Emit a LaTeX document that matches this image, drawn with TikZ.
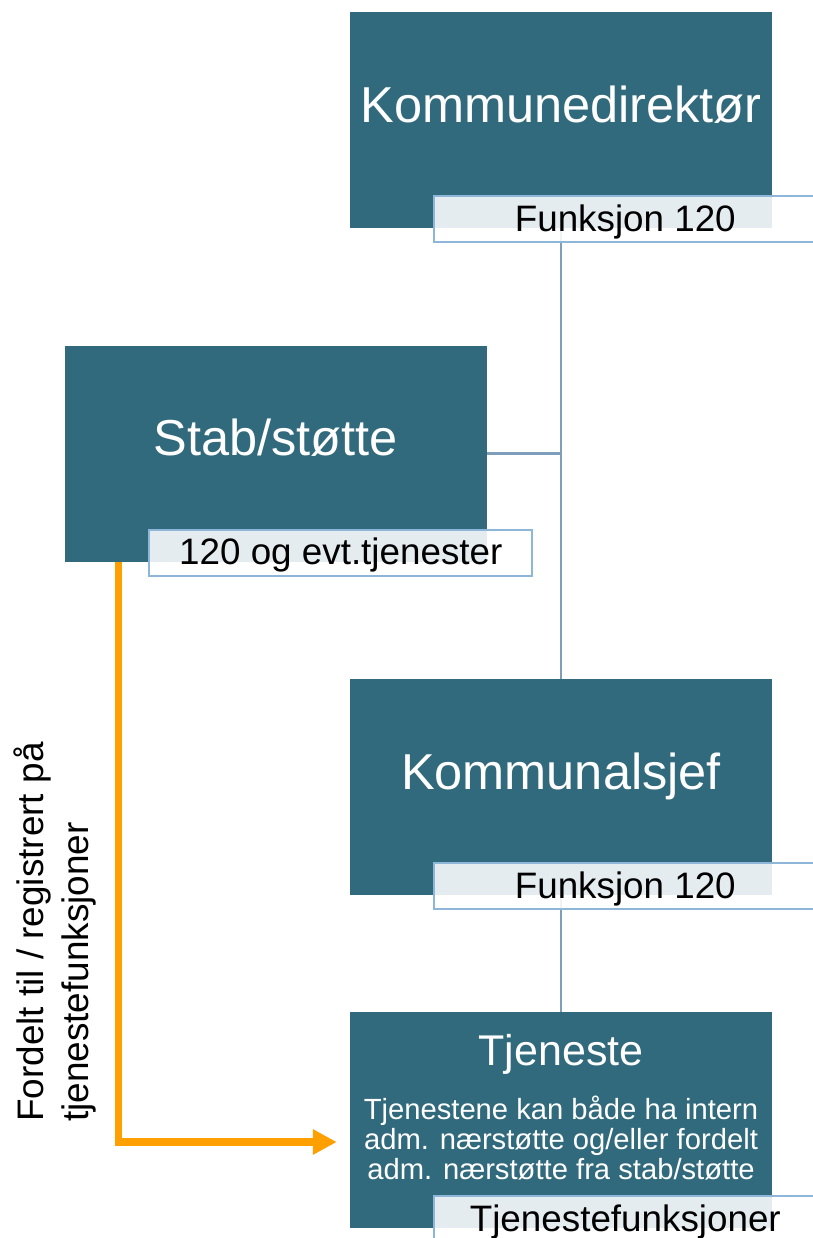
\documentclass[tikz,border=0pt]{standalone}
\usepackage{fontspec}
\setmainfont{Liberation Sans}
\definecolor{boxteal}{RGB}{49, 106, 124}
\definecolor{tagblue}{RGB}{141, 182, 216}
\definecolor{linkgray}{RGB}{127, 158, 186}
\definecolor{arroworange}{RGB}{255, 160, 0}
\usetikzlibrary{arrows.meta, backgrounds}

\begin{document}
\begin{tikzpicture}[x=1pt, y=-1pt,
  unit/.style={fill=boxteal, minimum width=422pt, minimum height=216pt, inner sep=0pt},
  title/.style={text=white, font=\fontsize{50.5}{60}\selectfont, anchor=base, inner sep=0pt},
  tag/.style={draw=tagblue, line width=2pt, fill=white, fill opacity=0.88, text opacity=1, minimum width=383pt, minimum height=46pt, inner sep=0pt, text height=27pt, text depth=3pt, anchor=north west, font=\fontsize{36.8}{44}\selectfont},
  link/.style={draw=linkgray, line width=2.2pt},
  fordelt/.style={draw=arroworange, line width=7.5pt, -{Triangle[length=24pt, width=24pt]}}]
  \useasboundingbox (0, 0) rectangle (812, 1238);

  % Units
  \node[unit] (kd) at (561, 120) {};
  \node[unit] (stab) at (275.5, 453.5) {};
  \node[unit] (ks) at (561, 787) {};
  \node[unit] (tj) at (561, 1120) {};

  % Titles
  \node[title] (kdtitle) at ([yshift=-3pt]kd.center) {Kommunedirektør};
  \node[title] (stabtitle) at ([yshift=-1.5pt]stab.center) {Stab/støtte};
  \node[title] (kstitle) at ([yshift=-2pt]ks.center) {Kommunalsjef};
  \node[title, font=\fontsize{43}{50}\selectfont] (tjtitle) at ([yshift=55pt]tj.center) {Tjeneste};
  \node[text=white, font=\fontsize{29.2}{30}\selectfont, align=center, anchor=north, inner sep=0pt] (tjtext) at ([yshift=24pt]tj.center) {
    Tjenestene kan både ha intern\\adm. nærstøtte og/eller fordelt\\adm. nærstøtte fra stab/støtte
  };

  % Function tags
  \node[tag] (kdtag) at ([shift={(83pt,33pt)}]kd.south west) {Funksjon 120};
  \node[tag] (stabtag) at ([shift={(84pt,33pt)}]stab.south west) {120 og evt.tjenester};
  \node[tag] (kstag) at ([shift={(83pt,33pt)}]ks.south west) {Funksjon 120};
  \node[tag] (tjtag) at ([shift={(83pt,33pt)}]tj.south west) {Tjenestefunksjoner};

  % Lines of the chart
  \begin{scope}[on background layer]
    \draw[link] (kd.south) -- (ks.north);
    \draw[link] (stab.east) -- (stab.east -| kd.south);
    \draw[link] (ks.south) -- (tj.north);
  \end{scope}

  % Distribution to services
  \draw[fordelt] ([xshift=54pt]stab.south west) |- ([shift={(-13pt,-22pt)}]tj.west);
  \node[rotate=90, anchor=north west, align=left, inner sep=0pt, font=\fontsize{36.9}{44.3}\selectfont] (note) at (14, 1122) {Fordelt til / registrert på\\tjenestefunksjoner};
\end{tikzpicture}
\end{document}
